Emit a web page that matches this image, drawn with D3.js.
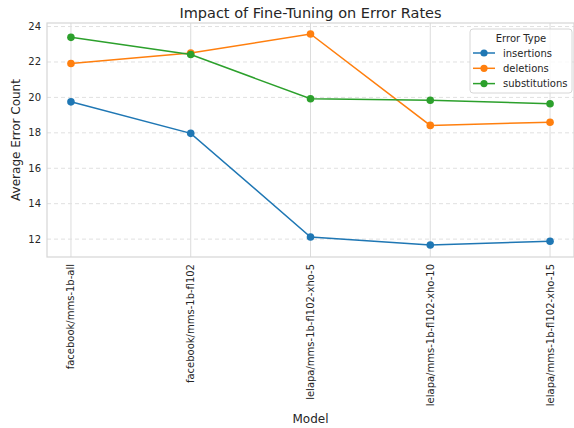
<!DOCTYPE html>
<html>
<head>
<meta charset="utf-8">
<script src="https://cdn.jsdelivr.net/npm/d3@7"></script>
<style>
  body { margin: 0; background: #fff; }
  text { font-family: "DejaVu Sans", sans-serif; fill: #262626; }
</style>
</head>
<body>
<svg id="chart" width="574" height="428"></svg>
<script>
const models = [
  "facebook/mms-1b-all",
  "facebook/mms-1b-fl102",
  "lelapa/mms-1b-fl102-xho-5",
  "lelapa/mms-1b-fl102-xho-10",
  "lelapa/mms-1b-fl102-xho-15"
];
const insertions = [19.75, 17.97, 12.12, 11.67, 11.88];
const deletions = [21.91, 22.5, 23.58, 18.42, 18.6];
const substitutions = [23.39, 22.42, 19.92, 19.84, 19.64];
const yTicks = [12, 14, 16, 18, 20, 22, 24];

const series = [
  { name: "insertions", values: insertions, color: "#1f77b4" },
  { name: "deletions", values: deletions, color: "#ff7f0e" },
  { name: "substitutions", values: substitutions, color: "#2ca02c" }
];

const svg = d3.select("#chart");
const plotLeft = 47, plotRight = 574, plotTop = 23, plotBottom = 257;

const x = d3.scaleLinear().domain([-0.2, models.length - 1 + 0.2]).range([plotLeft, plotRight]);
const y = d3.scaleLinear().domain([10.99, 24.2]).range([plotBottom, plotTop]);

// grid
svg.append("g")
  .selectAll("line")
  .data(models)
  .enter()
  .append("line")
  .attr("x1", (d, i) => x(i))
  .attr("x2", (d, i) => x(i))
  .attr("y1", plotTop)
  .attr("y2", plotBottom)
  .style("stroke", "#dcdcdc")
  .style("stroke-width", 1);

svg.append("g")
  .selectAll("line")
  .data(yTicks)
  .enter()
  .append("line")
  .attr("x1", plotLeft)
  .attr("x2", plotRight)
  .attr("y1", (d) => y(d))
  .attr("y2", (d) => y(d))
  .style("stroke", "#e0e0e0")
  .style("stroke-dasharray", "4,3")
  .style("stroke-width", 1);

// frame
svg.append("rect")
  .attr("x", plotLeft)
  .attr("y", plotTop)
  .attr("width", plotRight - plotLeft)
  .attr("height", plotBottom - plotTop)
  .style("fill", "none")
  .style("stroke", "#d6d6d6")
  .style("stroke-width", 1.2);

// y tick labels
svg.append("g")
  .selectAll("text")
  .data(yTicks)
  .enter()
  .append("text")
  .attr("x", plotLeft - 6)
  .attr("y", (d) => y(d))
  .attr("dy", "0.35em")
  .attr("text-anchor", "end")
  .style("font-size", "10px")
  .text((d) => d);

// x tick labels
svg.append("g")
  .selectAll("text")
  .data(models)
  .enter()
  .append("text")
  .attr("transform", (d, i) => `translate(${x(i)},${plotBottom + 7}) rotate(-90)`)
  .attr("dy", "0.35em")
  .attr("text-anchor", "end")
  .style("font-size", "10px")
  .text((d) => d);

// lines
const line = d3.line()
  .x((d, i) => x(i))
  .y((d) => y(d));

series.forEach((s) => {
  svg.append("path")
    .datum(s.values)
    .attr("d", line)
    .style("fill", "none")
    .style("stroke", s.color)
    .style("stroke-width", 1.5);
  svg.append("g")
    .selectAll("circle")
    .data(s.values)
    .enter()
    .append("circle")
    .attr("cx", (d, i) => x(i))
    .attr("cy", (d) => y(d))
    .attr("r", 3.8)
    .style("fill", s.color);
});

// title and axis labels
svg.append("text")
  .attr("x", (plotLeft + plotRight) / 2)
  .attr("y", 18)
  .attr("text-anchor", "middle")
  .style("font-size", "14.5px")
  .text("Impact of Fine-Tuning on Error Rates");

svg.append("text")
  .attr("x", (plotLeft + plotRight) / 2)
  .attr("y", 423)
  .attr("text-anchor", "middle")
  .style("font-size", "12px")
  .text("Model");

svg.append("text")
  .attr("transform", `translate(20,${(plotTop + plotBottom) / 2}) rotate(-90)`)
  .attr("text-anchor", "middle")
  .style("font-size", "12px")
  .text("Average Error Count");

// legend
const legend = svg.append("g").attr("transform", "translate(470,29)");
legend.append("rect")
  .attr("width", 102)
  .attr("height", 64)
  .attr("rx", 3)
  .style("fill", "#fff")
  .style("fill-opacity", 0.8)
  .style("stroke", "#d6d6d6");
legend.append("text")
  .attr("x", 51)
  .attr("y", 9)
  .attr("dy", "0.35em")
  .attr("text-anchor", "middle")
  .style("font-size", "10px")
  .text("Error Type");
series.forEach((s, i) => {
  const ly = 24 + i * 15.3;
  legend.append("line")
    .attr("x1", 3)
    .attr("x2", 25)
    .attr("y1", ly)
    .attr("y2", ly)
    .style("stroke", s.color)
    .style("stroke-width", 1.5);
  legend.append("circle")
    .attr("cx", 14)
    .attr("cy", ly)
    .attr("r", 3.6)
    .style("fill", s.color);
  legend.append("text")
    .attr("x", 33)
    .attr("y", ly)
    .attr("dy", "0.35em")
    .style("font-size", "10px")
    .text(s.name);
});
</script>
</body>
</html>
